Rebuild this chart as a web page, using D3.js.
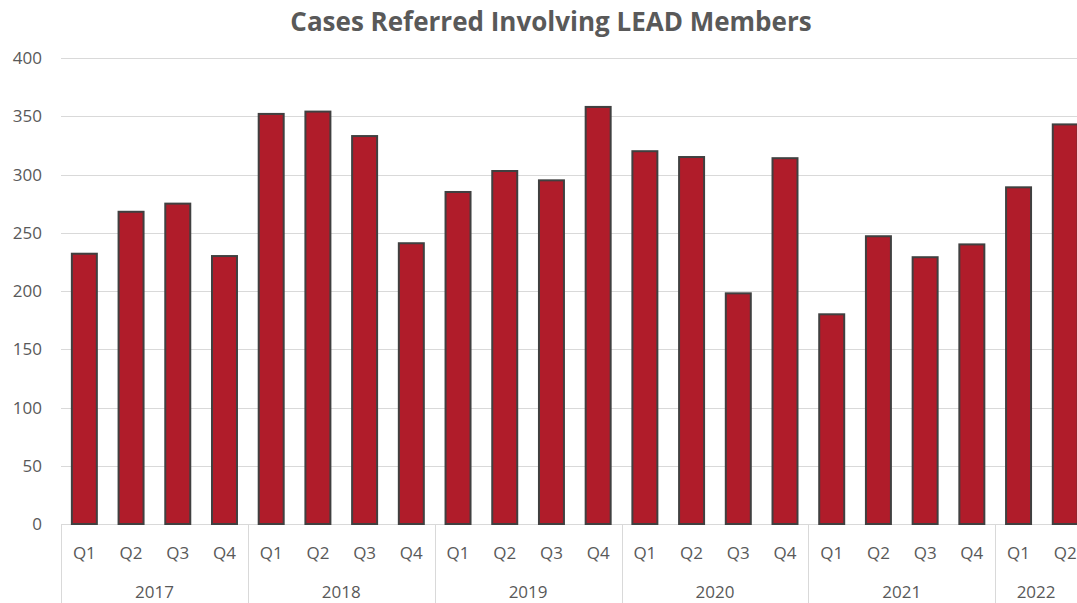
<!DOCTYPE html>
<html lang="en">
  <head>
    <meta charset="utf-8">
    <title>Cases Referred Involving LEAD Members</title>
    <style type="text/css">
body {
  margin: 0;
  background: #fff;
}

svg {
  font-family: "Open Sans", sans-serif;
  fill: #595959;
}

.grid line {
  stroke: #d9d9d9;
  stroke-width: 1px;
  shape-rendering: crispEdges;
}

.bar {
  fill: #b01c2a;
  stroke: #404040;
  stroke-width: 2px;
}

.sep {
  stroke: #d9d9d9;
  stroke-width: 1px;
  shape-rendering: crispEdges;
}
    </style>
  </head>

  <body>
    <div id="mainCanvas"></div>

    <script src="https://cdn.jsdelivr.net/npm/d3@7"></script>
    <script>
      // quarterly counts
      var data = [
        {year: "2017", q: "Q1", value: 232},
        {year: "2017", q: "Q2", value: 268},
        {year: "2017", q: "Q3", value: 275},
        {year: "2017", q: "Q4", value: 230},
        {year: "2018", q: "Q1", value: 352},
        {year: "2018", q: "Q2", value: 354},
        {year: "2018", q: "Q3", value: 333},
        {year: "2018", q: "Q4", value: 241},
        {year: "2019", q: "Q1", value: 285},
        {year: "2019", q: "Q2", value: 303},
        {year: "2019", q: "Q3", value: 295},
        {year: "2019", q: "Q4", value: 358},
        {year: "2020", q: "Q1", value: 320},
        {year: "2020", q: "Q2", value: 315},
        {year: "2020", q: "Q3", value: 198},
        {year: "2020", q: "Q4", value: 314},
        {year: "2021", q: "Q1", value: 180},
        {year: "2021", q: "Q2", value: 247},
        {year: "2021", q: "Q3", value: 229},
        {year: "2021", q: "Q4", value: 240},
        {year: "2022", q: "Q1", value: 289},
        {year: "2022", q: "Q2", value: 343}
      ];
      data.forEach(function(d, i) { d.id = i; });

      var W = 1077, H = 603;
      var margin = {left: 61, top: 58, bottom: 524};
      var step = 46.71;

      var x = d3.scaleBand()
        .domain(data.map(function(d) { return d.id; }))
        .range([margin.left, margin.left + step * data.length])
        .paddingInner(0.465)
        .paddingOuter(0.2325);

      var y = d3.scaleLinear()
        .domain([0, 400])
        .range([margin.bottom, margin.top]);

      var svg = d3.select("#mainCanvas").append("svg")
          .attr("width", W)
          .attr("height", H);

      // title
      svg.append("text")
          .attr("x", 551)
          .attr("y", 31)
          .attr("text-anchor", "middle")
          .style("font-size", "26px")
          .style("font-weight", "bold")
          .text("Cases Referred Involving LEAD Members");

      // gridlines
      var ticks = y.ticks(8);
      svg.append("g").attr("class", "grid")
        .selectAll("line")
        .data(ticks)
        .enter().append("line")
          .attr("x1", margin.left)
          .attr("x2", W)
          .attr("y1", function(d) { return Math.round(y(d)) + 0.5; })
          .attr("y2", function(d) { return Math.round(y(d)) + 0.5; });

      svg.append("g")
        .selectAll("text")
        .data(ticks)
        .enter().append("text")
          .attr("x", 42)
          .attr("y", function(d) { return y(d) + 6; })
          .attr("text-anchor", "end")
          .style("font-size", "17px")
          .text(function(d) { return d; });

      // bars
      svg.append("g")
        .selectAll("rect")
        .data(data)
        .enter().append("rect")
          .attr("class", "bar")
          .attr("x", function(d) { return x(d.id); })
          .attr("y", function(d) { return y(d.value); })
          .attr("width", x.bandwidth())
          .attr("height", function(d) { return y(0) - y(d.value); });

      // quarter labels
      svg.append("g")
        .selectAll("text")
        .data(data)
        .enter().append("text")
          .attr("x", function(d) { return x(d.id) + x.bandwidth() / 2; })
          .attr("y", 559)
          .attr("text-anchor", "middle")
          .style("font-size", "17px")
          .text(function(d) { return d.q; });

      // year groups
      var years = d3.groups(data, function(d) { return d.year; });
      var yearStart = function(g) { return x(g[1][0].id) - x.step() * x.paddingOuter(); };
      var yearEnd = function(g) { return x(g[1][g[1].length - 1].id) + x.bandwidth() + x.step() * x.paddingOuter(); };

      svg.selectAll(".sep")
        .data(years.map(yearStart))
        .enter().append("line")
          .attr("class", "sep")
          .attr("x1", function(d) { return Math.round(d) + 0.5; })
          .attr("x2", function(d) { return Math.round(d) + 0.5; })
          .attr("y1", margin.bottom)
          .attr("y2", H);

      svg.append("g")
        .selectAll("text")
        .data(years)
        .enter().append("text")
          .attr("x", function(g) { return (yearStart(g) + Math.min(yearEnd(g), W)) / 2; })
          .attr("y", 598)
          .attr("text-anchor", "middle")
          .style("font-size", "17px")
          .text(function(g) { return g[0]; });
    </script>
  </body>
</html>
